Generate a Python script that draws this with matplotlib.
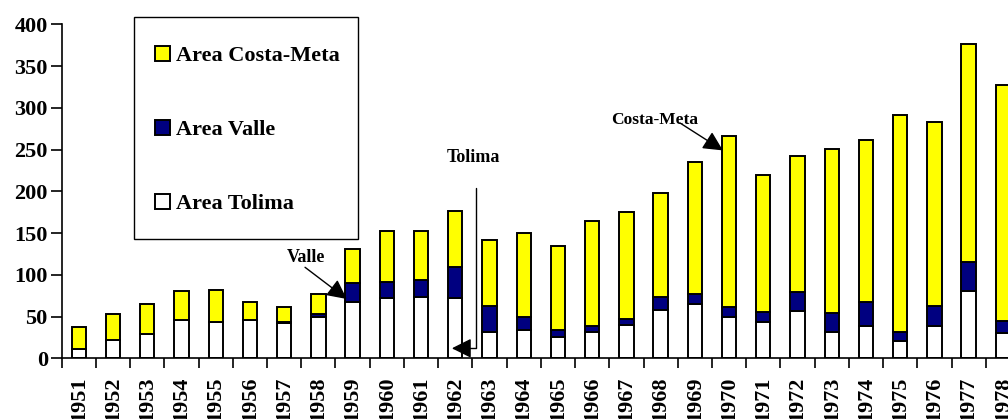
import numpy as np
import matplotlib
matplotlib.use("Agg")
import matplotlib.pyplot as plt
from matplotlib.patches import Rectangle

plt.rcParams['font.family'] = ['Liberation Serif', 'DejaVu Serif']
plt.rcParams['font.weight'] = 'bold'

# data
years = list(range(1951, 1979))
tolima = [11, 22, 29, 46, 44, 46, 42, 49, 68, 72, 73, 72, 32, 34,
          26, 31, 40, 58, 65, 50, 43, 57, 32, 39, 21, 39, 80, 30]
valle = [0, 0, 0, 0, 0, 0, 1, 4, 22, 19, 21, 37, 31, 15,
         8, 8, 7, 16, 12, 12, 12, 22, 22, 28, 10, 24, 35, 15]
costa_meta = [26, 31, 36, 34, 38, 21, 19, 24, 41, 61, 58, 68, 79, 101,
              100, 126, 128, 124, 158, 204, 164, 163, 197, 195, 260, 220, 262, 282]

x = np.arange(len(years))
tolima = np.array(tolima)
valle = np.array(valle)
costa_meta = np.array(costa_meta)

W, H = 1008, 419
fig = plt.figure(figsize=(W / 100, H / 100), dpi=100)
ax = fig.add_axes([0.0612, 0.1449, 0.9507, 0.797])

w = 0.42
ax.bar(x, tolima, w, color='white', edgecolor='black', linewidth=1.4, label='Area Tolima')
ax.bar(x, valle, w, bottom=tolima, color='#000080', edgecolor='black', linewidth=1.4, label='Area Valle')
ax.bar(x, costa_meta, w, bottom=tolima + valle, color='#FFFF00', edgecolor='black', linewidth=1.4,
       label='Area Costa-Meta')

ax.set_xlim(-0.5, len(years) - 0.5)
ax.set_ylim(0, 400)
ax.set_yticks(range(0, 401, 50))
ax.set_xticks(x)
ax.set_xticklabels([str(y) for y in years], rotation=90, fontsize=16, fontweight='bold', va='top')
ax.set_xticks(np.arange(-0.5, len(years)), minor=True)
ax.tick_params(axis='x', which='major', length=0, pad=13)
ax.tick_params(axis='x', which='minor', length=7, width=1.2, direction='out')
ax.tick_params(axis='y', length=8, width=1.2, direction='out', labelsize=16, pad=2)
for t in ax.get_yticklabels():
    t.set_fontweight('bold')

for s in ['top', 'right']:
    ax.spines[s].set_visible(False)
ax.spines['left'].set_linewidth(1.2)
ax.spines['bottom'].set_linewidth(1.2)

# legend box drawn separately, legend entries placed inside it
box = Rectangle((134 / W, 1 - 239 / H), 224 / W, 222 / H, transform=fig.transFigure,
                facecolor='white', edgecolor='black', linewidth=1.0, zorder=5, clip_on=False)
ax.add_patch(box)
handles, labels = ax.get_legend_handles_labels()
leg = ax.legend(handles[::-1], labels[::-1], loc='upper left',
                bbox_to_anchor=(155 / W, 1 - 46 / H), bbox_transform=fig.transFigure,
                prop={'weight': 'bold', 'size': 16},
                labelspacing=2.4, borderpad=0, handlelength=0.68, handleheight=0.68,
                handletextpad=0.25, borderaxespad=0, frameon=False)
leg.set_zorder(6)

# annotations
arrow = dict(arrowstyle='-|>', color='black', lw=1, mutation_scale=30, shrinkA=0, shrinkB=0)
ax.text(6.64, 121, 'Valle', ha='center', va='center', fontsize=13, fontweight='bold')
ax.annotate('', xy=(7.83, 71), xytext=(6.61, 109), arrowprops=arrow)

ax.text(11.52, 241, 'Tolima', ha='center', va='center', fontsize=13, fontweight='bold')
ax.annotate('', xy=(10.9, 12), xytext=(11.62, 204),
            arrowprops=dict(arrow, connectionstyle='angle,angleA=-90,angleB=180,rad=0'))

ax.text(16.83, 285, 'Costa-Meta', ha='center', va='center', fontsize=12.5, fontweight='bold')
ax.annotate('', xy=(18.82, 249), xytext=(17.56, 282), arrowprops=arrow)

fig.savefig('out.png', dpi=100)
